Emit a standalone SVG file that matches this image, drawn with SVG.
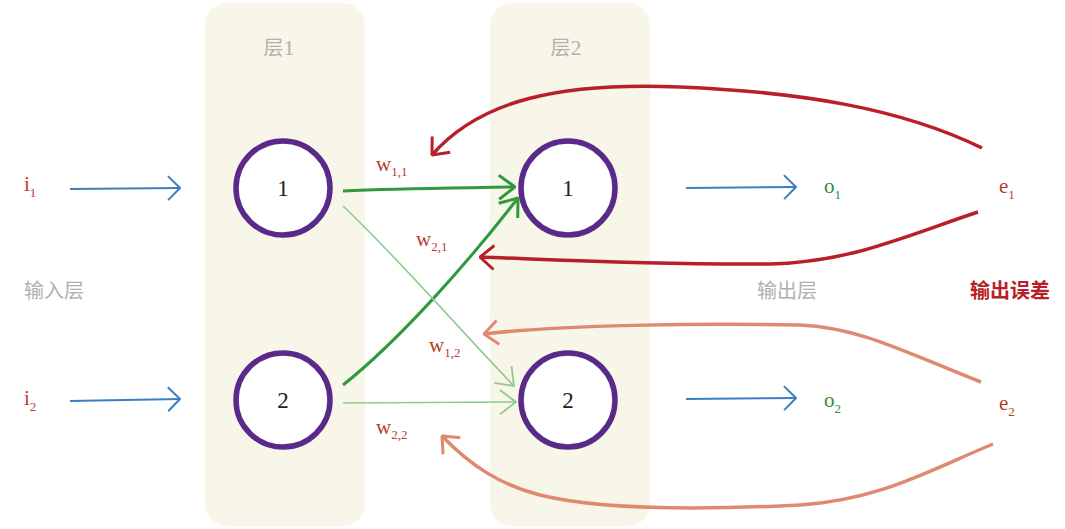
<svg xmlns="http://www.w3.org/2000/svg" width="1065" height="529" viewBox="0 0 1065 529">
<style>
.panel{fill:#f8f6e9}
.node circle{fill:#fff;stroke:#5a2a8a;stroke-width:5.5}
.num{font-family:"Liberation Serif",serif;font-size:23px;fill:#222;text-anchor:middle}
.lbl{font-family:"Liberation Serif",serif;font-size:21px}
.sub{font-size:13px}
.cjk{font-family:"Noto Sans CJK SC",sans-serif;font-size:20px;fill:#b0b0b0}
.red{fill:#b8402e}
.green{fill:#2f8f3a}
.blue{stroke:#3c7fc0;stroke-width:2;fill:none}
.dred{stroke:#b81f28;stroke-width:3.5;fill:none}
.salmon{stroke:#df8a70;stroke-width:3.5;fill:none}
.gdark{stroke:#2e9a3c;stroke-width:3;fill:none}
.glight{stroke:#8fcb8c;stroke-width:1.6;fill:none}
</style>
<defs>
<marker id="mBlue" markerUnits="userSpaceOnUse" viewBox="0 0 14 28" refX="13" refY="14" markerWidth="14" markerHeight="28" orient="auto"><path d="M1,2 L13,14 L1,26" fill="none" stroke="#3c7fc0" stroke-width="2"/></marker>
<marker id="mRed" markerUnits="userSpaceOnUse" viewBox="0 0 16 28" refX="15" refY="14" markerWidth="16" markerHeight="28" orient="auto"><path d="M1,2 L15,14 L1,26" fill="none" stroke="#b81f28" stroke-width="3"/></marker>
<marker id="mSalmon" markerUnits="userSpaceOnUse" viewBox="0 0 16 28" refX="15" refY="14" markerWidth="16" markerHeight="28" orient="auto"><path d="M1,2 L15,14 L1,26" fill="none" stroke="#df8a70" stroke-width="3"/></marker>
<marker id="mGD" markerUnits="userSpaceOnUse" viewBox="0 0 18 28" refX="17" refY="14" markerWidth="18" markerHeight="28" orient="auto"><path d="M1,2 L17,14 L1,26" fill="none" stroke="#2e9a3c" stroke-width="3"/></marker>
<marker id="mGL" markerUnits="userSpaceOnUse" viewBox="0 0 18 28" refX="17" refY="14" markerWidth="18" markerHeight="28" orient="auto"><path d="M1,2 L17,14 L1,26" fill="none" stroke="#8fcb8c" stroke-width="1.8"/></marker>
</defs>
<rect width="1065" height="529" fill="#fff"/>
<g id="panels">
<rect class="panel" x="205" y="3" width="160" height="523" rx="22"/>
<rect class="panel" x="490" y="3" width="160" height="523" rx="22"/>
<text class="cjk" x="279" y="55" text-anchor="middle">层<tspan font-family="Liberation Serif,serif" font-size="22">1</tspan></text>
<text class="cjk" x="566" y="55" text-anchor="middle">层<tspan font-family="Liberation Serif,serif" font-size="22">2</tspan></text>
</g>
<g id="labels">
<text class="cjk" x="24" y="298">输入层</text>
<text class="cjk" x="757" y="298">输出层</text>
<text class="cjk" x="970" y="298" style="fill:#b81f28;font-weight:bold">输出误差</text>
<text class="lbl red" x="24" y="191">i<tspan class="sub" dy="6">1</tspan></text>
<text class="lbl red" x="24" y="405">i<tspan class="sub" dy="6">2</tspan></text>
<text class="lbl green" x="824" y="193">o<tspan class="sub" dy="6">1</tspan></text>
<text class="lbl green" x="824" y="407">o<tspan class="sub" dy="6">2</tspan></text>
<text class="lbl red" x="999" y="193">e<tspan class="sub" dy="6">1</tspan></text>
<text class="lbl red" x="999" y="410">e<tspan class="sub" dy="6">2</tspan></text>
<text class="lbl red" x="376" y="171">w<tspan class="sub" dy="5">1,1</tspan></text>
<text class="lbl red" x="416" y="246">w<tspan class="sub" dy="5">2,1</tspan></text>
<text class="lbl red" x="429" y="352">w<tspan class="sub" dy="5">1,2</tspan></text>
<text class="lbl red" x="376" y="434">w<tspan class="sub" dy="5">2,2</tspan></text>
</g>
<g id="connectors">
<path class="blue" d="M70,189 L180,188" marker-end="url(#mBlue)"/>
<path class="blue" d="M70,401 L180,399" marker-end="url(#mBlue)"/>
<path class="blue" d="M686,188 L796,187" marker-end="url(#mBlue)"/>
<path class="blue" d="M686,399 L796,398" marker-end="url(#mBlue)"/>
<path class="gdark" d="M343,191 C400,188 460,188 515,187" marker-end="url(#mGD)"/>
<path class="gdark" d="M343,385 C400,340 470,260 518,198" marker-end="url(#mGD)"/>
<path class="glight" d="M343,206 C400,260 460,330 514,386" marker-end="url(#mGL)"/>
<path class="glight" d="M343,403 L516,402" marker-end="url(#mGL)"/>
<path class="dred" d="M982,148 C900,108 800,92 680,87 C560,82 480,100 432,155" marker-end="url(#mRed)"/>
<path class="dred" d="M978,212 C900,238 850,262 770,264 C650,265 560,260 480,257" marker-end="url(#mRed)"/>
<path class="salmon" d="M981,382 C900,350 860,328 800,325 C700,323 560,325 484,334" marker-end="url(#mSalmon)"/>
<path class="salmon" d="M993,444 C930,470 880,500 800,505 C700,510 600,510 540,495 C500,485 470,465 442,436" marker-end="url(#mSalmon)"/>
</g>
<g id="n1_1" class="node"><circle cx="283" cy="188" r="47"/><text class="num" x="283" y="196">1</text></g>
<g id="n1_2" class="node"><circle cx="283" cy="400" r="47"/><text class="num" x="283" y="408">2</text></g>
<g id="n2_1" class="node"><circle cx="568" cy="188" r="47"/><text class="num" x="568" y="196">1</text></g>
<g id="n2_2" class="node"><circle cx="568" cy="400" r="47"/><text class="num" x="568" y="408">2</text></g>
</svg>
